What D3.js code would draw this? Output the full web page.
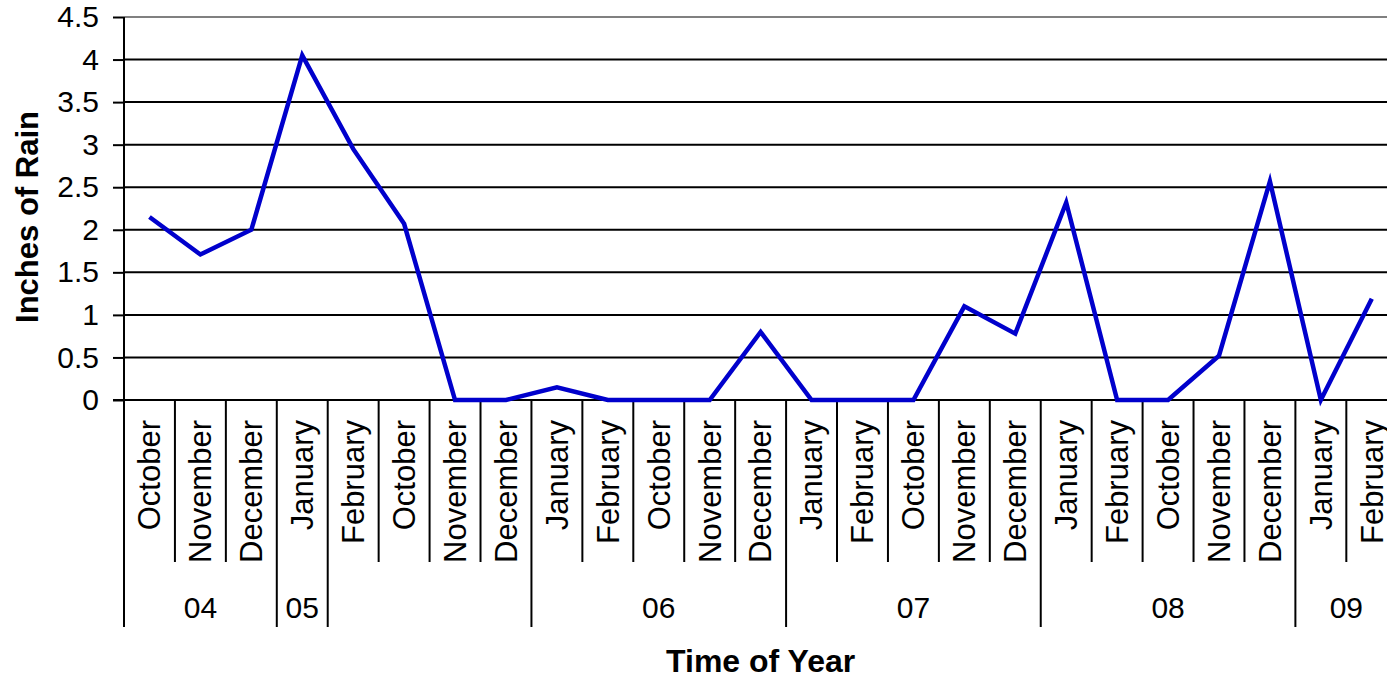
<!DOCTYPE html>
<html>
<head>
<meta charset="utf-8">
<script src="https://cdn.jsdelivr.net/npm/d3@7/dist/d3.min.js"></script>
<style>
  html, body { margin: 0; padding: 0; background: #fff; overflow: hidden; }
  svg { display: block; font-family: "Liberation Sans", Arial, sans-serif; }
</style>
</head>
<body>
<svg id="chart" width="1387" height="678"></svg>
<script>
// Monthly rainfall, October 2004 through February 2009
const months = ["October","November","December","January","February","October","November","December",
  "January","February","October","November","December","January","February","October","November","December",
  "January","February","October","November","December","January","February"];
const rainfall = [2.15, 1.71, 2.0, 4.05, 2.95, 2.07, 0, 0,
  0.15, 0, 0, 0, 0.8, 0, 0, 0, 1.1, 0.78,
  2.32, 0, 0, 0.52, 2.57, 0, 1.19];
// second category level: year label and how many months it covers
const yearLabels = ["04", "05", "", "06", "07", "08", "09"];
const yearSpans = [3, 1, 4, 5, 5, 5, 2];
const yTicks = [0, 0.5, 1, 1.5, 2, 2.5, 3, 3.5, 4, 4.5];
const yTickLabels = ["0", "0.5", "1", "1.5", "2", "2.5", "3", "3.5", "4", "4.5"];

const svg = d3.select("#chart");
const plotLeft = 124, plotTop = 17, plotBottom = 400, band = 50.93;
const plotRight = plotLeft + band * months.length;

const x = d3.scaleBand().domain(d3.range(months.length)).range([plotLeft, plotRight]).paddingInner(0).paddingOuter(0);
const y = d3.scaleLinear().domain([0, 4.5]).range([plotBottom, plotTop]);

// horizontal gridlines (top one is the plot border, gray)
svg.append("g").selectAll("line").data(yTicks.filter(d => d > 0)).join("line")
  .attr("x1", plotLeft).attr("x2", plotRight)
  .attr("y1", d => y(d)).attr("y2", d => y(d))
  .attr("stroke", d => d === 4.5 ? "#808080" : "#000")
  .attr("stroke-width", 2);

// value axis
const yAxis = d3.axisLeft(y).tickValues(yTicks).tickSize(11).tickPadding(14)
  .tickFormat((d, i) => yTickLabels[i]);
const gy = svg.append("g").attr("transform", `translate(${plotLeft},0)`).call(yAxis);
gy.select(".domain").attr("stroke", "#000").attr("stroke-width", 2).attr("d", `M0,${plotTop}V${plotBottom}`);
gy.selectAll(".tick line").attr("stroke", "#000").attr("stroke-width", 2);
gy.selectAll(".tick text").attr("fill", "#000").style("font-size", "30px")
  .style("font-family", "'Liberation Sans', Arial, sans-serif");

// category axis baseline
svg.append("line").attr("x1", plotLeft - 11).attr("x2", plotRight).attr("y1", plotBottom).attr("y2", plotBottom)
  .attr("stroke", "#000").attr("stroke-width", 2);

// group boundaries (month index where each year group starts)
const groupStarts = [];
let acc = 0;
yearSpans.forEach(s => { groupStarts.push(acc); acc += s; });
groupStarts.push(acc);
const isGroupEdge = i => groupStarts.includes(i);
const edgeX = i => i < months.length ? x(i) : plotRight;

// month separators
svg.append("g").selectAll("line").data(d3.range(months.length + 1)).join("line")
  .attr("x1", edgeX).attr("x2", edgeX)
  .attr("y1", plotBottom)
  .attr("y2", i => isGroupEdge(i) ? 627 : 562)
  .attr("stroke", "#000").attr("stroke-width", 2);

// month labels
svg.append("g").selectAll("text").data(months).join("text")
  .attr("transform", (d, i) => `translate(${x(i) + x.bandwidth() / 2},420) rotate(-90)`)
  .attr("text-anchor", "end")
  .attr("dy", "0.35em")
  .style("font-size", "31px")
  .text(d => d);

// year labels
svg.append("g").selectAll("text").data(yearLabels).join("text")
  .attr("x", (d, i) => (edgeX(groupStarts[i]) + edgeX(groupStarts[i + 1])) / 2)
  .attr("y", 618)
  .attr("text-anchor", "middle")
  .style("font-size", "30px")
  .text(d => d);

// rainfall line
const line = d3.line().x((d, i) => x(i) + x.bandwidth() / 2).y(d => y(d));
svg.append("path").datum(rainfall)
  .attr("d", line)
  .attr("fill", "none")
  .attr("stroke", "#0000CC")
  .attr("stroke-width", 4.5)
  .attr("stroke-linejoin", "miter");

// axis titles
svg.append("text").attr("x", (plotLeft + plotRight) / 2).attr("y", 672)
  .attr("text-anchor", "middle").style("font-size", "32px").style("font-weight", "bold")
  .text("Time of Year");
svg.append("text").attr("transform", "translate(38,217) rotate(-90)")
  .attr("text-anchor", "middle").style("font-size", "31px").style("font-weight", "bold")
  .text("Inches of Rain");
</script>
</body>
</html>
